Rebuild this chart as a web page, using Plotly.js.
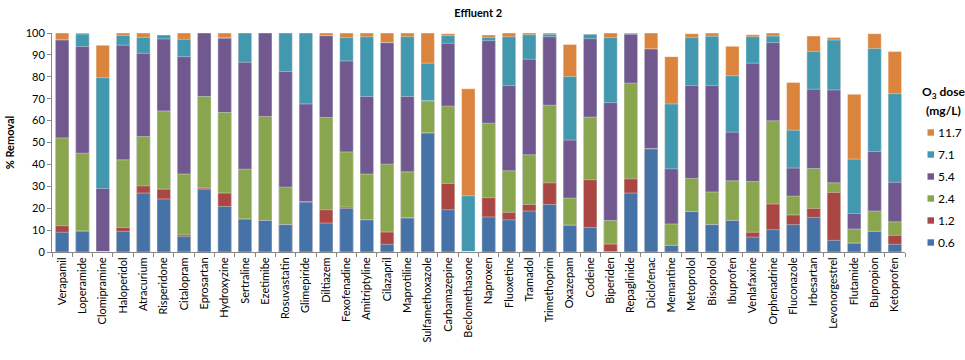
<!DOCTYPE html>
<html>
<head>
<meta charset="utf-8">
<script src="https://cdn.plot.ly/plotly-3.0.1.min.js"></script>
<style>html,body{margin:0;padding:0;background:#fff;}#chart{width:965px;height:360px;}</style>
</head>
<body>
<div id="chart"></div>
<script>
// Categories (pharmaceuticals)
const compounds = ["Verapamil","Loperamide","Clomipramine","Haloperidol","Atracurium","Risperidone","Citalopram","Eprosartan","Hydroxyzine","Sertraline","Ezetimibe","Rosuvastatin","Glimepiride","Diltiazem","Fexofenadine","Amitriptyline","Cilazapril","Maprotiline","Sulfamethoxazole","Carbamazepine","Beclomethasone","Naproxen","Fluoxetine","Tramadol","Trimethoprim","Oxazepam","Codeine","Biperiden","Repaglinide","Diclofenac","Memantine","Metoprolol","Bisoprolol","Ibuprofen","Venlafaxine","Orphenadrine","Fluconazole","Irbesartan","Levonorgestrel","Flutamide","Bupropion","Ketoprofen"];

// % removal at each O3 dose (mg/L)
const dose06  = [9.0,9.5,0,9.4,26.9,24.2,7.1,28.7,20.8,15.0,14.4,12.5,22.8,13.2,19.9,14.7,3.5,15.5,54.3,19.3,0,16.0,14.7,18.7,21.7,12.2,11.2,0,26.9,47.1,3.0,18.5,12.5,14.4,6.8,10.2,12.5,15.8,5.3,4.0,9.4,3.5];
const dose12  = [12.0,9.5,0,11.2,30.2,28.7,7.8,29.2,26.9,15.0,14.4,12.5,22.8,19.3,20.5,14.7,9.1,15.5,54.3,31.3,0,24.8,18.1,21.7,31.6,12.2,33.0,3.6,33.4,47.1,3.0,18.5,12.5,14.4,9.0,21.9,16.9,19.9,27.2,4.0,9.4,7.6];
const dose24  = [52.1,45.1,0,42.1,52.7,64.4,35.6,71.0,63.7,37.8,61.9,29.6,22.8,61.4,45.7,35.6,40.1,36.6,69.0,66.6,0,58.8,37.1,44.4,67.0,24.6,61.6,14.4,77.1,47.1,12.8,33.6,27.4,32.5,32.2,59.9,25.5,38.1,31.6,10.5,18.7,13.8];
const dose54  = [96.8,93.8,29.0,94.4,90.7,97.3,89.2,100,97.6,86.6,100,82.4,67.6,98.8,87.2,71.0,95.6,71.0,69.0,95.3,0,96.5,76.0,88.0,98.3,51.1,97.4,68.2,99.4,92.7,38.0,76.0,76.0,54.7,86.2,95.6,38.3,74.3,74.0,17.6,45.9,31.8];
const dose71  = [96.8,99.5,79.6,98.9,98.0,99.1,97.1,100,97.9,100,100,100,100,98.8,97.9,98.3,95.6,98.3,86.2,98.8,25.7,98.0,98.3,99.2,99.4,80.1,99.4,97.9,99.4,92.7,67.6,97.9,98.5,80.5,98.3,98.6,55.6,91.5,96.8,42.4,92.9,72.3];
const dose117 = [100,100,94.4,100,100,99.1,100,100,100,100,100,100,100,100,100,100,100,100,100,99.7,74.5,99.1,100,100,100,94.8,99.4,100,100,100,89.2,99.7,100,93.9,99.2,100,77.4,98.6,98.0,72.0,99.7,91.5];

const doseLabels = ["11.7","7.1","5.4","2.4","1.2","0.6"];
const doseSeries = [dose117, dose71, dose54, dose24, dose12, dose06];
const doseColors = ["#DB843D","#4198AF","#71588F","#89A54E","#AA4643","#4572A7"];

const fontFam = "Lato, 'Open Sans', 'Liberation Sans', sans-serif";

const traces = doseSeries.map((vals, i) => ({
  type: "bar",
  name: doseLabels[i],
  x: compounds,
  y: vals,
  showlegend: false,
  marker: {color: doseColors[i], line: {color: "rgba(255,255,255,0.55)", width: 0.7}},
  hoverinfo: "x+y+name"
}));

// plot-area geometry in pixels (used only to place the legend)
const plotL = 52, plotR = 905, plotT = 33, plotB = 252;
const px2x = p => (p - plotL) / (plotR - plotL);
const px2y = p => (plotB - p) / (plotB - plotT);

// legend: small square keys + labels
const keyShapes = doseColors.map((c, i) => {
  const yc = 132.5 + 22 * i;
  return {type: "rect", xref: "paper", yref: "paper", layer: "above", opacity: 1,
          x0: px2x(927.5), x1: px2x(934), y0: px2y(yc + 3.2), y1: px2y(yc - 3.2),
          fillcolor: c, line: {width: 0}};
});
const keyLabels = doseLabels.map((lab, i) => ({
  xref: "paper", yref: "paper", x: px2x(936), y: px2y(132.5 + 22 * i),
  xanchor: "left", yanchor: "middle", showarrow: false,
  text: lab, font: {size: 12, family: fontFam, color: "#000"}
}));

const layout = {
  width: 965, height: 360,
  margin: {l: plotL, r: 965 - plotR, t: plotT, b: 360 - plotB},
  paper_bgcolor: "#fff", plot_bgcolor: "#fff",
  barmode: "overlay",
  bargap: 0.34,
  showlegend: false,
  font: {family: fontFam, size: 11, color: "#000"},
  title: {text: "<b>Effluent 2</b>", x: 0.4955, xanchor: "center", y: 0.975, yanchor: "top", font: {size: 11, family: fontFam, color: "#000"}},
  xaxis: {
    type: "category",
    range: [-0.5, compounds.length - 0.5],
    tickangle: -90,
    showline: true, linecolor: "#868686", linewidth: 1,
    ticks: "outside", tickson: "boundaries", ticklen: 4, tickcolor: "#868686",
    showgrid: false, zeroline: false,
    tickfont: {size: 11, family: fontFam, color: "#000"},
    fixedrange: true
  },
  yaxis: {
    range: [0, 100], dtick: 10, tick0: 0,
    showline: true, linecolor: "#868686", linewidth: 1,
    ticks: "outside", ticklen: 4, tickcolor: "#868686",
    showgrid: false, zeroline: false,
    tickfont: {size: 11, family: fontFam, color: "#000"},
    title: {text: "<b>% Removal</b>", font: {size: 11, family: fontFam, color: "#000"}, standoff: 8},
    fixedrange: true
  },
  shapes: keyShapes,
  annotations: [
    {xref: "paper", yref: "paper", x: px2x(943), y: px2y(92), xanchor: "center", yanchor: "middle", showarrow: false,
     text: "<b>O<sub>3</sub> dose</b>", font: {size: 12, family: fontFam, color: "#000"}},
    {xref: "paper", yref: "paper", x: px2x(943), y: px2y(110), xanchor: "center", yanchor: "middle", showarrow: false,
     text: "<b>(mg/L)</b>", font: {size: 12, family: fontFam, color: "#000"}}
  ].concat(keyLabels)
};

Plotly.newPlot("chart", traces, layout, {displayModeBar: false, staticPlot: true});
</script>
</body>
</html>
